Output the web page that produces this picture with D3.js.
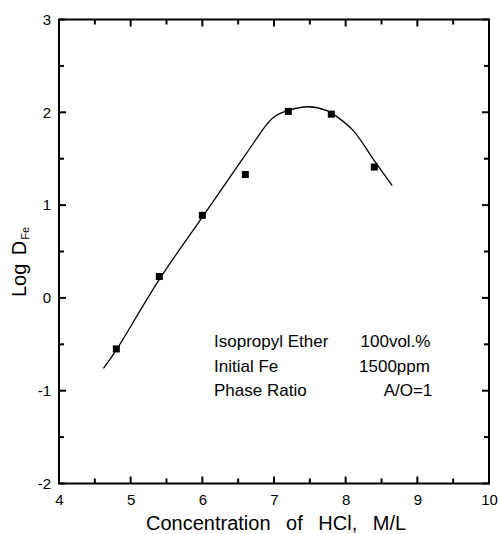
<!DOCTYPE html>
<html>
<head>
<meta charset="utf-8">
<script src="https://cdn.jsdelivr.net/npm/d3@7"></script>
<style>
  body { margin: 0; background: #fff; }
  text { font-family: "Liberation Sans", Arial, sans-serif; fill: #000; }
</style>
</head>
<body>
<div id="chart"></div>
<script>
// measured points
var hclConc = [4.8, 5.4, 6.0, 6.6, 7.2, 7.8, 8.4];
var logD = [-0.55, 0.23, 0.89, 1.33, 2.01, 1.98, 1.41];

// fitted curve
var curveX = [4.62, 4.8, 5.4, 6.0, 6.6, 6.9, 7.0, 7.2, 7.48, 7.73, 7.9, 8.11, 8.39, 8.65];
var curveY = [-0.76, -0.56, 0.2, 0.87, 1.54, 1.87, 1.95, 2.02, 2.06, 2.02, 1.94, 1.8, 1.49, 1.21];

var xTicks = [4, 5, 6, 7, 8, 9, 10];
var yTicks = [-2, -1, 0, 1, 2, 3];
var xMinor = [4.5, 5.5, 6.5, 7.5, 8.5, 9.5];
var yMinor = [-1.5, -0.5, 0.5, 1.5, 2.5];

var noteLabels = ['Isopropyl Ether', 'Initial Fe', 'Phase Ratio'];
var noteValues = ['100vol.%', '1500ppm', 'A/O=1'];

var width = 500, height = 534;
var margin = {top: 19.5, right: 11, bottom: 50.5, left: 59};

var svg = d3.select('#chart').append('svg')
  .attr('width', width)
  .attr('height', height);

var x = d3.scaleLinear().domain([4, 10]).range([margin.left, width - margin.right]);
var y = d3.scaleLinear().domain([-2, 3]).range([height - margin.bottom, margin.top]);

var fmt = function(d) { return String(d); };  // plain hyphen minus like the original

// tick labels from the axis generators
function labels(axis, tx, ty) {
  var g = svg.append('g').attr('transform', 'translate(' + tx + ',' + ty + ')').call(axis);
  g.select('.domain').remove();
  g.selectAll('line').remove();
  g.selectAll('text').style('font-size', '15px').style('font-family', '"Liberation Sans", Arial, sans-serif');
  return g;
}
labels(d3.axisBottom(x).tickValues(xTicks).tickSize(0).tickPadding(11).tickFormat(fmt), 0, y(-2));
labels(d3.axisLeft(y).tickValues(yTicks).tickSize(0).tickPadding(8).tickFormat(fmt), x(4), 0);

// frame
svg.append('rect')
  .attr('x', x(4)).attr('y', y(3))
  .attr('width', x(10) - x(4)).attr('height', y(-2) - y(3))
  .attr('fill', 'none').attr('stroke', '#000').attr('stroke-width', 2);

// tick marks, inward on all four sides
var ticks = svg.append('g').attr('stroke', '#000').attr('stroke-width', 2);
function xMarks(vals, len) {
  ticks.selectAll(null).data(vals).enter().append('line')
    .attr('x1', function(d) { return x(d); }).attr('x2', function(d) { return x(d); })
    .attr('y1', y(-2)).attr('y2', y(-2) - len);
  ticks.selectAll(null).data(vals).enter().append('line')
    .attr('x1', function(d) { return x(d); }).attr('x2', function(d) { return x(d); })
    .attr('y1', y(3)).attr('y2', y(3) + len);
}
function yMarks(vals, len) {
  ticks.selectAll(null).data(vals).enter().append('line')
    .attr('y1', function(d) { return y(d); }).attr('y2', function(d) { return y(d); })
    .attr('x1', x(4)).attr('x2', x(4) + len);
  ticks.selectAll(null).data(vals).enter().append('line')
    .attr('y1', function(d) { return y(d); }).attr('y2', function(d) { return y(d); })
    .attr('x1', x(10)).attr('x2', x(10) - len);
}
xMarks(xTicks, 7);
xMarks(xMinor, 5);
yMarks(yTicks, 7);
yMarks(yMinor, 5);

// fitted curve
var curvePts = curveX.map(function(v, i) { return [v, curveY[i]]; });
var line = d3.line()
  .x(function(d) { return x(d[0]); })
  .y(function(d) { return y(d[1]); })
  .curve(d3.curveCatmullRom.alpha(0.5));

svg.append('path')
  .datum(curvePts)
  .attr('d', line)
  .attr('fill', 'none')
  .attr('stroke', '#000')
  .attr('stroke-width', 1.3);

// square markers
var s = 7;
svg.selectAll('.pt').data(hclConc).enter()
  .append('rect')
    .attr('class', 'pt')
    .attr('x', function(d) { return x(d) - s / 2; })
    .attr('y', function(d, i) { return y(logD[i]) - s / 2; })
    .attr('width', s)
    .attr('height', s)
    .attr('fill', '#000');

// axis titles
svg.append('text')
  .attr('x', 146).attr('y', 530)
  .style('font-size', '20px')
  .style('word-spacing', '10px')
  .text('Concentration of HCl, M/L');

var yt = svg.append('text')
  .attr('transform', 'translate(26,262)rotate(-90)')
  .attr('text-anchor', 'middle')
  .style('font-size', '20px')
  .style('word-spacing', '3px');
yt.append('tspan').text('Log D');
yt.append('tspan').attr('dx', 1).attr('dy', 3).style('font-size', '11px').text('Fe');

// note block
var notes = svg.append('g');
notes.selectAll('.lab').data(noteLabels).enter()
  .append('text')
    .attr('x', 214)
    .attr('y', function(d, i) { return 347 + i * 24.7; })
    .style('font-size', '17px')
    .text(function(d) { return d; });
var valX = [395.5, 394.5, 408];
notes.selectAll('.val').data(noteValues).enter()
  .append('text')
    .attr('x', function(d, i) { return valX[i]; })
    .attr('y', function(d, i) { return 347 + i * 24.7; })
    .attr('text-anchor', 'middle')
    .style('font-size', '17px')
    .text(function(d) { return d; });
</script>
</body>
</html>
